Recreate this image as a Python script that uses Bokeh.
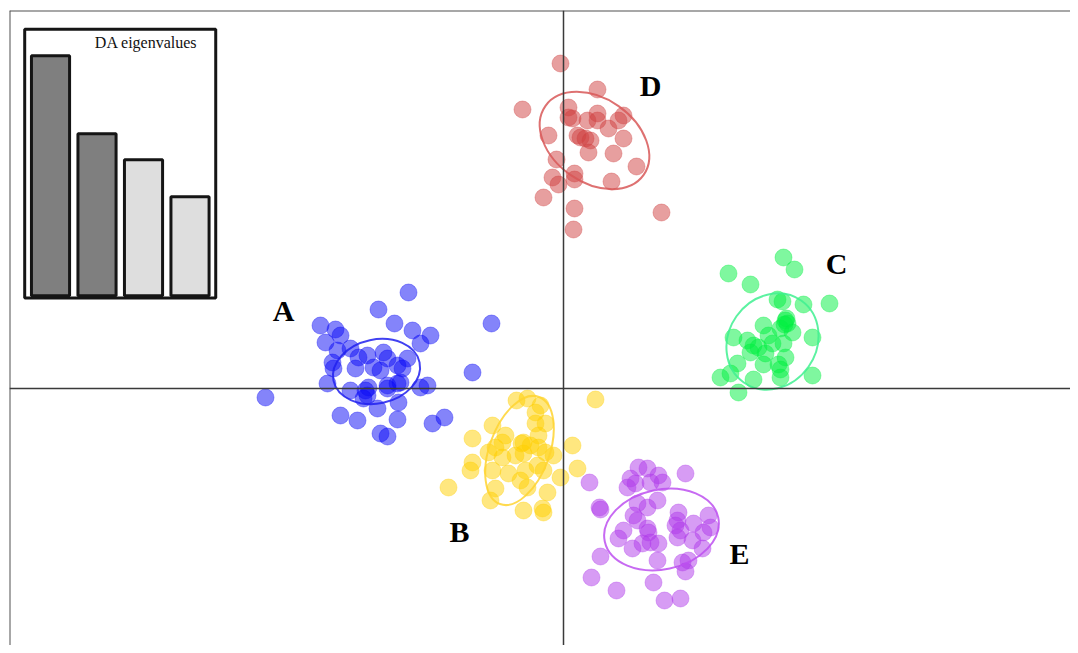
import numpy as np
from bokeh.plotting import figure
from bokeh.models import Range1d, Span
from bokeh.core.properties import value
from bokeh.embed import file_html
from bokeh.resources import INLINE

# ---- data: discriminant scores (LD1, LD2) ----
groups = ["A", "B", "C", "D", "E"]

a_x = [-15.5, -18.5, -16.9, -24.3, -22.8, -22.3, -23.8, -15.1, -13.3, -14.3, -22.6, -21.3,
       -15.6, -23.1, -23.0, -20.5, -19.6, -18.0, -17.6, -20.8, -19.0, -18.3, -16.6, -16.1,
       -23.6, -21.3, -19.5, -19.6, -17.6, -16.6, -16.3, -13.6, -14.3, -20.0, -18.6, -16.5,
       -22.3, -20.6, -16.6, -18.3, -17.6, -13.1, -11.9, -29.8, -7.2, -9.1, -17.6, -19.8]
a_y = [9.6, 7.9, 6.5, 6.3, 5.9, 5.3, 4.6, 5.8, 5.3, 4.5, 3.8, 4.0,
       3.0, 2.6, 2.0, 3.1, 3.3, 3.6, 3.0, 2.0, 2.1, 1.8, 2.3, 2.0,
       0.5, -0.2, 0.1, -0.7, 0.3, 0.5, 0.6, 0.3, 0.1, -1.0, -2.0, -1.4,
       -2.7, -3.2, -3.1, -4.5, -4.8, -3.5, -2.9, -0.9, 6.5, 1.6, 0.0, -0.2]

b_x = [-4.7, -3.6, -2.3, -2.8, -2.8, -1.8, -7.1, -9.1, -5.8, -6.1, -6.8, -7.5,
       -4.0, -3.3, -2.5, -2.5, -1.8, -1.0, 0.9, -6.1, -4.8, -4.0, -9.1, -9.3,
       -7.1, -5.5, -3.8, -2.6, -2.0, 1.4, -0.3, -4.3, -3.6, -6.8, -11.5, -7.3,
       -1.6, -4.0, -2.1, -2.0, 3.2, -4.2]
b_y = [-1.2, -1.0, -1.7, -2.4, -3.5, -3.5, -3.7, -5.0, -4.7, -5.4, -5.9, -6.4,
       -5.4, -5.7, -4.7, -5.9, -6.4, -6.7, -5.7, -6.9, -6.7, -6.5, -7.4, -8.2,
       -8.2, -8.5, -8.2, -7.7, -8.2, -8.0, -8.9, -9.2, -9.9, -10.0, -9.9, -11.2,
       -10.4, -12.2, -12.0, -12.4, -1.1, -5.5]

c_x = [22.0, 23.1, 16.5, 18.7, 21.4, 21.9, 24.0, 26.6, 22.2, 22.4, 20.0, 21.7,
       20.5, 22.9, 17.0, 24.9, 18.4, 19.0, 19.5, 20.9, 22.0, 18.7, 20.2, 22.2,
       17.4, 20.0, 21.5, 21.7, 15.7, 16.7, 19.0, 21.7, 24.9, 17.5, 22.3, 22.1]
c_y = [13.1, 11.9, 11.5, 10.4, 8.9, 8.7, 8.4, 8.5, 6.8, 6.5, 6.3, 6.0,
       5.3, 5.6, 5.1, 5.1, 4.8, 4.3, 4.1, 4.5, 4.5, 3.6, 3.5, 3.1,
       2.5, 2.4, 2.4, 1.9, 1.1, 1.5, 0.9, 1.1, 1.3, -0.4, 7.0, 6.4]

d_x = [-0.3, 3.4, -4.1, 0.5, 0.5, 0.9, 2.4, 3.4, 3.4, 6.0, 5.5, 4.5,
       -1.5, 1.4, 1.7, 2.2, 2.7, 6.0, 2.5, 5.0, -0.7, 7.3, -1.1, 1.1,
       1.1, -0.5, 4.8, -2.0, 1.1, 9.8, 1.0]
d_y = [32.5, 29.9, 27.9, 28.1, 27.1, 27.0, 26.8, 27.5, 26.8, 27.3, 26.8, 26.0,
       25.3, 25.3, 25.1, 25.0, 24.8, 25.0, 23.6, 23.5, 22.9, 22.2, 21.1, 21.5,
       20.9, 20.4, 20.7, 19.1, 18.0, 17.6, 15.9]

e_x = [2.6, 7.5, 8.4, 6.7, 9.5, 12.2, 6.4, 7.2, 8.7, 9.9, 3.6, 3.7,
       7.4, 8.4, 9.4, 7.0, 7.4, 11.4, 11.5, 11.2, 13.0, 14.5, 14.7, 6.0,
       8.4, 8.5, 11.7, 14.0, 5.5, 7.9, 8.7, 9.5, 11.4, 12.9, 6.9, 13.9,
       3.7, 9.4, 11.9, 12.5, 12.2, 2.8, 9.0, 5.3, 10.1, 11.7]
e_y = [-9.4, -7.9, -8.0, -9.0, -8.7, -8.5, -9.9, -9.5, -9.4, -9.4, -11.9, -12.1,
       -11.5, -11.9, -11.2, -12.7, -13.2, -13.2, -12.4, -13.7, -13.5, -12.7, -13.9, -14.2,
       -14.0, -14.4, -14.2, -14.4, -15.0, -15.5, -15.4, -15.5, -14.9, -15.2, -16.0, -16.0,
       -16.8, -17.2, -17.4, -17.2, -18.3, -18.9, -19.4, -20.2, -21.2, -21.0]

# inertia ellipses: centre, axes, rotation (degrees)
ell_cx = [-18.7, -4.4, 20.9, 3.1, 9.8]
ell_cy = [1.7, -6.2, 4.7, 24.8, -14.1]
ell_w = [8.8, 11.4, 10.0, 12.0, 11.6]
ell_h = [6.4, 6.0, 8.8, 8.4, 8.0]
ell_angle = [12, 70, 55, -35, 12]

# group label positions
lab_x = [-28.0, -10.4, 27.3, 8.7, 17.6]
lab_y = [7.8, -14.3, 12.5, 30.3, -16.5]

# DA eigenvalues (inset)
eig_index = [0, 1, 2, 3]
eig_values = [2.40, 1.62, 1.36, 0.99]
eig_retained = [True, True, False, False]

colors = ["#0A0AF5", "#FFCF00", "#00F040", "#CF4040", "#B03AEA"]
ell_colors = ["#2020EE", "#FFD330", "#40F090", "#D85858", "#BD50F0"]

xs = [a_x, b_x, c_x, d_x, e_x]
ys = [a_y, b_y, c_y, d_y, e_y]

p = figure(width=1070, height=645, output_backend="svg", toolbar_location=None,
           x_range=Range1d(-55.4, 50.7), y_range=Range1d(-25.7, 37.8),
           x_axis_location=None, y_axis_location=None,
           background_fill_color="white", border_fill_color="white")
p.min_border_left = 9
p.min_border_top = 10
p.min_border_right = 0
p.min_border_bottom = 0
p.outline_line_color = None
p.xgrid.visible = False
p.ygrid.visible = False

# frame edges (top / left) and axes through origin
p.add_layout(Span(location=37.8, dimension="width", line_color="#505050", line_width=2))
p.add_layout(Span(location=-55.4, dimension="height", line_color="#505050", line_width=2))
p.add_layout(Span(location=0, dimension="width", line_color="#3a3a3a", line_width=1.5))
p.add_layout(Span(location=0, dimension="height", line_color="#3a3a3a", line_width=1.5))

for gx, gy, c in zip(xs, ys, colors):
    p.scatter(gx, gy, size=17, fill_color=c, fill_alpha=0.5,
              line_color=c, line_alpha=0.35, line_width=1)

p.ellipse(x=ell_cx, y=ell_cy, width=ell_w, height=ell_h,
          angle=[np.deg2rad(a) for a in ell_angle],
          fill_color=None, line_color=ell_colors, line_width=2, line_alpha=0.85)

p.text(x=lab_x, y=lab_y, text=groups, text_font=value("Liberation Serif"),
       text_font_style="bold", text_font_size="30px", text_align="center",
       text_baseline="alphabetic", text_color="black")

# ---- inset: DA eigenvalues ----
p.extra_x_ranges = {"ins_x": Range1d(-0.882, 21.935)}
p.extra_y_ranges = {"ins_y": Range1d(-3.498, 2.852)}

p.quad(left=[-0.555], right=[3.553], bottom=[-0.023], top=[2.664],
       x_range_name="ins_x", y_range_name="ins_y",
       fill_color="white", line_color="#151515", line_width=3)
bar_cols = ["#7F7F7F" if r else "#DEDEDE" for r in eig_retained]
p.vbar(x=eig_index, top=eig_values, bottom=0, width=0.82,
       x_range_name="ins_x", y_range_name="ins_y",
       fill_color=bar_cols, line_color="#151515", line_width=3)
p.text(x=[3.16], y=[2.53], text=["DA eigenvalues"],
       x_range_name="ins_x", y_range_name="ins_y",
       text_font=value("Liberation Serif"), text_font_size="16px",
       text_align="right", text_baseline="alphabetic", text_color="#111111")

open("out.html", "w").write(file_html(p, INLINE))
